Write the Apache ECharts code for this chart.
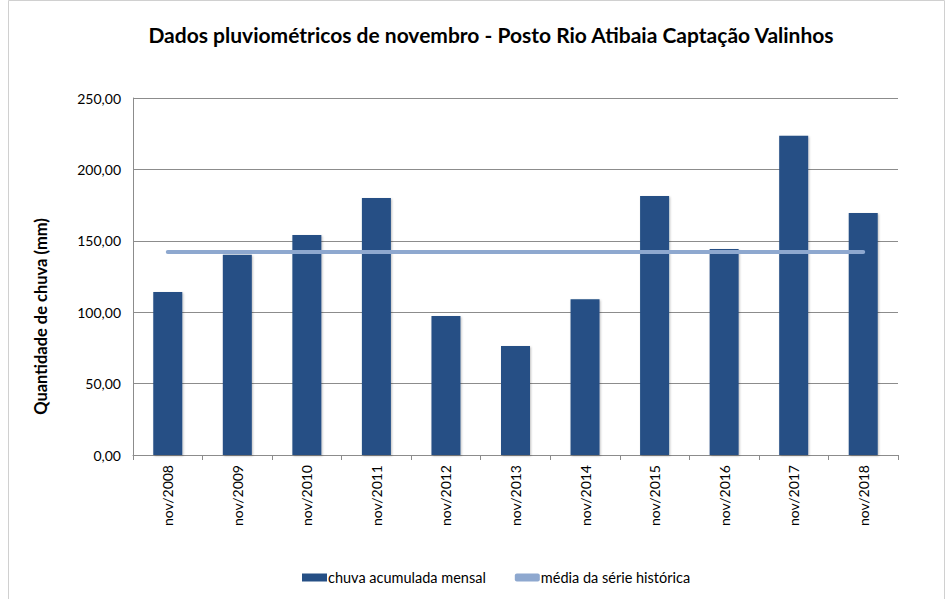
<!DOCTYPE html>
<html>
<head>
<meta charset="utf-8">
<script src="https://cdn.jsdelivr.net/npm/echarts@6/dist/echarts.min.js"></script>
<style>
  html, body { margin: 0; padding: 0; background: #fff; }
  #chart { width: 950px; height: 599px; }
</style>
</head>
<body>
<div id="chart"></div>
<script>
// categorias (meses)
const meses = ['nov/2008', 'nov/2009', 'nov/2010', 'nov/2011', 'nov/2012', 'nov/2013',
               'nov/2014', 'nov/2015', 'nov/2016', 'nov/2017', 'nov/2018'];
// chuva acumulada mensal (mm)
const chuvaMensal = [114.2, 140.3, 154.0, 180.0, 97.3, 76.3, 109.0, 181.4, 144.3, 223.6, 169.5];
// média da série histórica (mm)
const mediaSerie = [142.2, 142.2, 142.2, 142.2, 142.2, 142.2, 142.2, 142.2, 142.2, 142.2, 142.2];
// eixo y
const yMin = 0, yMax = 250, yStep = 50;

const fonte = 'Lato, "Open Sans", sans-serif';
const myChart = echarts.init(document.getElementById('chart'), null, { renderer: 'svg' });

myChart.setOption({
  animation: false,
  backgroundColor: '#fff',
  title: {
    text: 'Dados pluviométricos de novembro - Posto Rio Atibaia Captação Valinhos',
    left: 486,
    textAlign: 'center',
    top: 19,
    textStyle: { fontFamily: fonte, fontSize: 21, fontWeight: 'bold', color: '#000' }
  },
  graphic: [{
    type: 'rect',
    shape: { x: 8.5, y: 0.5, width: 936, height: 605 },
    style: { fill: 'none', stroke: '#d0d0d0', lineWidth: 1 },
    silent: true
  }],
  legend: {
    bottom: 9,
    left: 297,
    itemGap: 29,
    itemWidth: 25,
    itemHeight: 8,
    textStyle: { fontFamily: fonte, fontSize: 14.5, color: '#000', padding: [0, 0, 0, -4] },
    data: [
      { name: 'chuva acumulada mensal', icon: 'rect' },
      { name: 'média da série histórica', icon: 'roundRect', itemStyle: { color: '#8ea8cf' } }
    ]
  },
  grid: { left: 133, right: 52, top: 98, bottom: 144 },
  xAxis: {
    type: 'category',
    data: meses,
    axisLine: { lineStyle: { color: '#8c8c8c' } },
    axisTick: { show: true, alignWithLabel: false, length: 5, lineStyle: { color: '#8c8c8c' } },
    axisLabel: { rotate: 90, interval: 0, margin: 10, fontFamily: fonte, fontSize: 14, color: '#000' }
  },
  yAxis: {
    type: 'value',
    name: 'Quantidade de chuva (mm)',
    nameLocation: 'middle',
    nameGap: 84,
    nameTextStyle: { fontFamily: fonte, fontSize: 16.5, fontWeight: 'bold', color: '#000', padding: [0, 80, 0, 0] },
    min: yMin, max: yMax, interval: yStep,
    axisLine: { show: true, lineStyle: { color: '#8c8c8c' } },
    axisTick: { show: false },
    splitLine: { lineStyle: { color: '#8c8c8c' } },
    axisLabel: {
      margin: 12,
      fontFamily: fonte, fontSize: 14, color: '#000',
      formatter: v => v.toFixed(2).replace('.', ',')
    }
  },
  series: [
    {
      name: 'chuva acumulada mensal',
      type: 'bar',
      data: chuvaMensal,
      barWidth: 29,
      itemStyle: { color: '#254f85', shadowColor: 'rgba(0,0,0,0.25)', shadowBlur: 2, shadowOffsetX: 1, shadowOffsetY: 1 }
    },
    {
      name: 'média da série histórica',
      type: 'line',
      data: mediaSerie,
      showSymbol: false,
      symbol: 'none',
      lineStyle: { color: '#8ea8cf', width: 4, cap: 'round' },
      itemStyle: { color: '#8ea8cf' }
    }
  ]
});
</script>
</body>
</html>
